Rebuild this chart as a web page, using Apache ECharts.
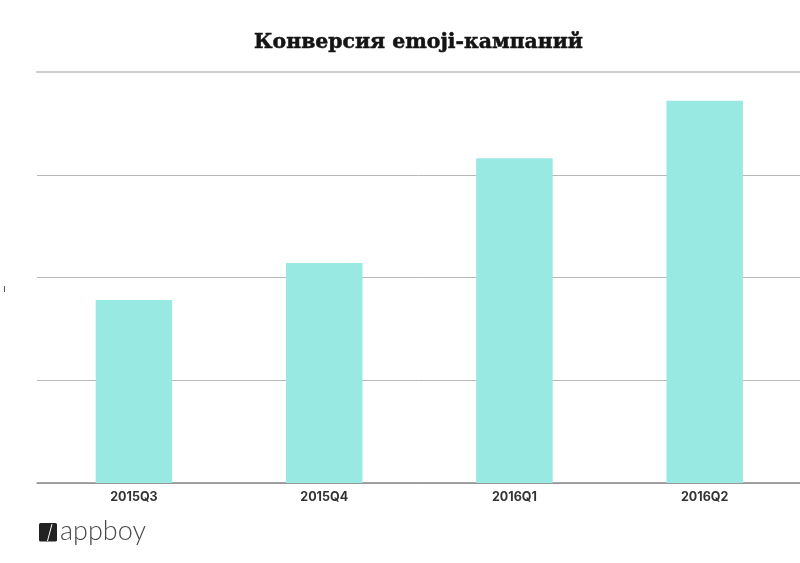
<!DOCTYPE html>
<html>
<head>
<meta charset="utf-8">
<style>html,body{margin:0;padding:0;background:#fff}#chart{width:800px;height:563px}</style>
<script src="https://cdn.jsdelivr.net/npm/echarts@6/dist/echarts.min.js"></script>
</head>
<body>
<div id="chart"></div>
<script>
const chartTitle = 'Конверсия emoji-кампаний';
const quarters = ['2015Q3', '2015Q4', '2016Q1', '2016Q2'];
const conversion = [1.78, 2.14, 3.16, 3.72];
const valueMax = 4;
const brandName = 'appboy';

const chart = echarts.init(document.getElementById('chart'), null, { renderer: 'canvas' });

chart.setOption({
  backgroundColor: '#ffffff',
  animation: false,
  title: {
    text: chartTitle,
    left: 413.5,
    top: 28,
    textAlign: 'center',
    textStyle: {
      fontFamily: 'DejaVu Serif', fontWeight: 'bold', fontSize: 20.4, color: '#141414',
      textBorderColor: '#141414', textBorderWidth: 0.5
    }
  },
  // The first grid carries the rules, the second one holds the columns.
  grid: [
    { left: 37, right: 0, top: 72, height: 411 },
    { left: 38.8, width: 761, top: 72, height: 411 }
  ],
  xAxis: [
    {
      gridIndex: 0, type: 'value', min: 0, max: 1,
      axisLine: { show: true, lineStyle: { color: '#8c8c8c', width: 1.5 } },
      axisTick: { show: false }, axisLabel: { show: false }, splitLine: { show: false }
    },
    {
      // Heavier, paler rule along the top of the plot.
      gridIndex: 0, type: 'value', position: 'top', min: 0, max: 1,
      axisLine: { show: true, onZero: false, lineStyle: { color: '#cdcdcd', width: 2 } },
      axisTick: { show: false }, axisLabel: { show: false }, splitLine: { show: false }
    },
    {
      gridIndex: 1, type: 'category', data: quarters,
      axisLine: { show: false }, axisTick: { show: false },
      axisLabel: {
        margin: 8, fontFamily: 'Inter', fontWeight: 'bold', fontSize: 12.5, color: '#333333'
      }
    }
  ],
  yAxis: [
    {
      gridIndex: 0, type: 'value', min: 0, max: valueMax, interval: 1,
      axisLine: { show: false }, axisTick: { show: false }, axisLabel: { show: false },
      splitLine: { show: true, lineStyle: { color: '#b8b8b8', width: 1 } }
    },
    {
      gridIndex: 1, type: 'value', min: 0, max: valueMax, interval: 1,
      axisLine: { show: false }, axisTick: { show: false }, axisLabel: { show: false },
      splitLine: { show: false }
    }
  ],
  series: [{
    type: 'bar',
    xAxisIndex: 2,
    yAxisIndex: 1,
    data: conversion,
    barWidth: 76.5,
    itemStyle: { color: '#99E9E3' },
    silent: true
  }],
  graphic: [
    { type: 'rect', shape: { x: 4, y: 286, width: 1, height: 6 }, style: { fill: '#555555' } },
    { type: 'rect', shape: { x: 39, y: 523, width: 18, height: 18.5, r: 1.5 }, style: { fill: '#222222' } },
    { type: 'line', shape: { x1: 52, y1: 524, x2: 47.5, y2: 541 }, style: { stroke: '#ffffff', lineWidth: 1 } },
    {
      type: 'text', left: 60, top: 518,
      style: { text: brandName, fontFamily: 'Lato', fontWeight: 300, fontSize: 27, fill: '#4a4a4a' }
    }
  ]
});
</script>
</body>
</html>
